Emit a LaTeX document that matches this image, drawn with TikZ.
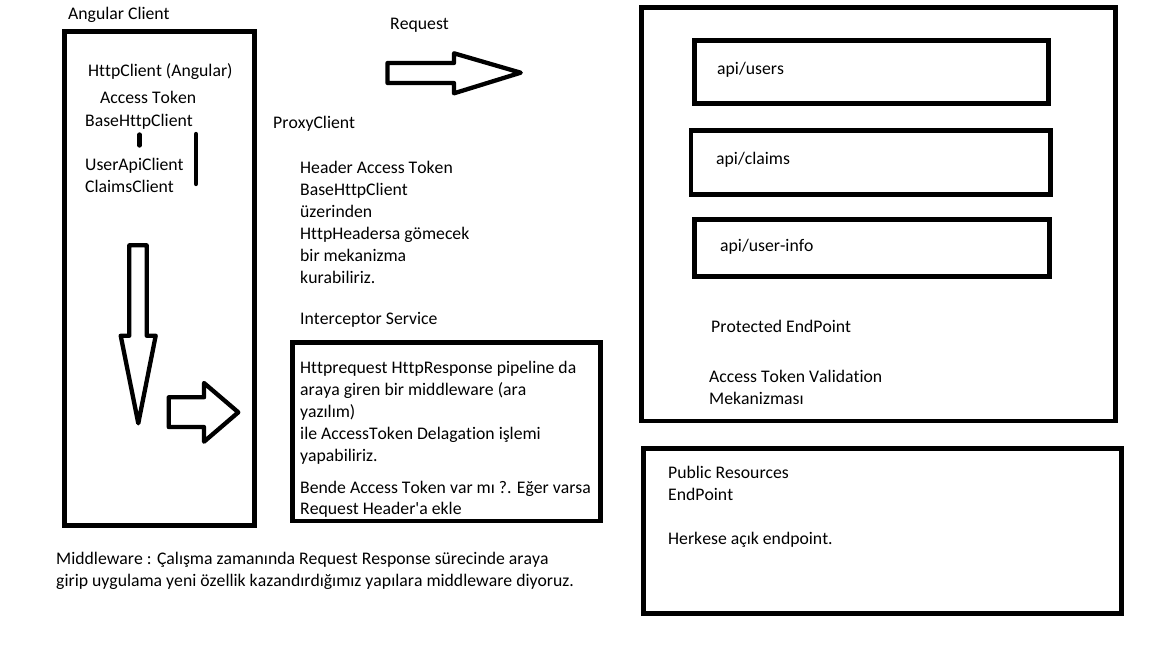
\documentclass[tikz,border=0pt]{standalone}
\usepackage{fontspec}
\setmainfont{Carlito}[Ligatures={NoCommon,TeXOff}, Kerning=Off]
\newcommand{\fsz}{\fontsize{17.7pt}{22pt}\selectfont}
\tikzset{
  txt/.style={anchor=base west, inner sep=0pt, font=\fsz, text=black},
  boxline/.style={draw=black, line width=4.8pt, line join=miter},
  blockarrow/.style={draw=black, line width=4.3pt, line join=round, fill=white},
  bar/.style={draw=black, line width=4.3pt, line cap=round}
}
\begin{document}
\begin{tikzpicture}[x=1pt,y=-1pt]
\useasboundingbox[fill=white] (0,0) rectangle (1152,648);

% boxes
\draw[boxline] (64.5,31.5) rectangle (254.5,525.5);
\draw[boxline] (292.5,342.5) rectangle (600.5,521);
\draw[boxline] (641.5,7.5) rectangle (1115.5,421);
\draw[boxline] (694.5,40.5) rectangle (1048.5,103.5);
\draw[boxline] (691,130.5) rectangle (1050.5,194.5);
\draw[boxline] (694.5,219.5) rectangle (1049.5,276.5);
\draw[boxline] (643.5,448.5) rectangle (1121.5,613.5);

% block arrows
\draw[blockarrow] (387.5,63) -- (454,63) -- (454,53.3) -- (520.7,72.7) -- (454,93.3) -- (454,83) -- (387.5,83) -- cycle;
\draw[blockarrow] (129.3,245.3) -- (146.7,245.3) -- (146.7,335.7) -- (155.7,335.7) -- (138.3,423.3) -- (120.7,335.7) -- (129.3,335.7) -- cycle;
\draw[blockarrow] (168.7,397.3) -- (204,397.3) -- (204,383) -- (238.3,412.3) -- (204,441.7) -- (204,427) -- (168.7,427) -- cycle;

% bars
\coordinate (b1t) at (139.5,134.5);
\coordinate (b1b) at (139.5,145.5);
\coordinate (b2t) at (196,134);
\coordinate (b2b) at (196,184);
\draw[bar] (b1t) -- (b1b);
\draw[bar] (b2t) -- (b2b);

% texts
\begin{scope}[yshift=-1pt]
\node[txt] (ac) at (68,18) {Angular Client};
\node[txt] (req) at (390,28) {Request};
\node[txt] (hc) at (88,75) {HttpClient (Angular)};
\node[txt] (at) at (100,102) {Access Token};
\node[txt] (bhc) at (85,125) {BaseHttpClient};
\node[txt] (pc) at (273,127) {ProxyClient};
\node[txt] (uac) at (85,169) {UserApiClient};
\node[txt] (cc) at (85,191) {ClaimsClient};

\node[txt] (h1) at (300,172) {Header Access Token};
\node[txt] (h2) at (300,194) {BaseHttpClient};
\node[txt] (h3) at (300,216) {üzerinden};
\node[txt] (h4) at (300,238) {HttpHeadersa gömecek};
\node[txt] (h5) at (300,260) {bir mekanizma};
\node[txt] (h6) at (300,282) {kurabiliriz.};
\node[txt] (is) at (300,323) {Interceptor Service};

\node[txt] (i1) at (300,372.5) {Httprequest HttpResponse pipeline da};
\node[txt] (i2) at (300,394.5) {araya giren bir middleware (ara};
\node[txt] (i3) at (300,416.5) {yazılım)};
\node[txt] (i4) at (300,438.5) {ile AccessToken Delagation işlemi};
\node[txt] (i5) at (300,460.5) {yapabiliriz.};
\node[txt] (i6) at (300,492) {Bende Access Token var mı ?. Eğer varsa};
\node[txt] (i7) at (300,513.5) {Request Header'a ekle};

\node[txt] (m1) at (56,563) {Middleware : Çalışma zamanında Request Response sürecinde araya};
\node[txt] (m2) at (56,585) {girip uygulama yeni özellik kazandırdığımız yapılara middleware diyoruz.};

\node[txt] (au) at (717,73) {api/users};
\node[txt] (acl) at (716,163) {api/claims};
\node[txt] (aui) at (720,250) {api/user-info};
\node[txt] (pe) at (711,331) {Protected EndPoint};
\node[txt] (v1) at (709,381) {Access Token Validation};
\node[txt] (v2) at (709,403) {Mekanizması};
\node[txt] (pr1) at (668,477) {Public Resources};
\node[txt] (pr2) at (668,499) {EndPoint};
\node[txt] (hk) at (668,543) {Herkese açık endpoint.};
\end{scope}
\end{tikzpicture}
\end{document}
